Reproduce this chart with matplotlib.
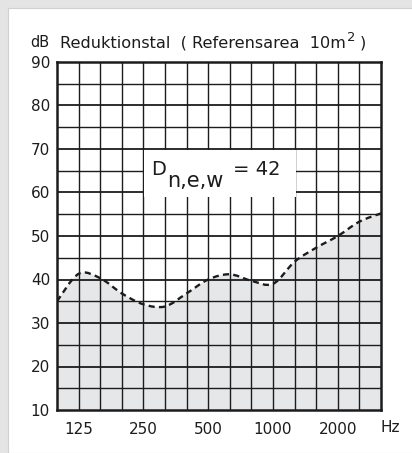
import matplotlib
matplotlib.use("Agg")
import matplotlib.pyplot as plt
import numpy as np
from matplotlib.path import Path
from matplotlib.patches import PathPatch, Rectangle

# 1/3-octave bands 100 Hz .. 3150 Hz
bands = [100, 125, 160, 200, 250, 315, 400, 500, 630, 800, 1000, 1250, 1600, 2000, 2500, 3150]
reduction_db = [35.0, 41.3, 40.3, 36.8, 34.3, 33.8, 36.8, 40.0, 41.2, 39.7, 39.0, 44.1, 47.3, 50.0, 53.3, 55.2]
tick_labels = ["125", "250", "500", "1000", "2000"]
tick_bands = [125, 250, 500, 1000, 2000]
y_ticks = [10, 20, 30, 40, 50, 60, 70, 80, 90]

plt.rcParams["font.family"] = ["DejaVu Sans"]

FG = "#1c1c1c"
FILL = "#e6e7e8"
W, H = 412, 453


def smooth_path(xs, ys):
    # Catmull-Rom -> cubic bezier segments through the data points
    pts = np.column_stack([xs, ys])
    verts = [tuple(pts[0])]
    codes = [Path.MOVETO]
    n = len(pts)
    for i in range(n - 1):
        p0 = pts[max(i - 1, 0)]; p1 = pts[i]; p2 = pts[i + 1]; p3 = pts[min(i + 2, n - 1)]
        c1 = p1 + (p2 - p0) / 6.0
        c2 = p2 - (p3 - p1) / 6.0
        verts += [tuple(c1), tuple(c2), tuple(p2)]
        codes += [Path.CURVE4] * 3
    return verts, codes


def px(x, y):
    return x / W, 1 - y / H


fig = plt.figure(figsize=(W / 100, H / 100), dpi=100)
fig.patch.set_facecolor("#e4e4e4")
fig.add_artist(Rectangle((8 / W, 0), 1, 1 - 8 / H, transform=fig.transFigure,
                         facecolor="white", edgecolor="#d0d0d0", lw=0.8, zorder=0))

ax = fig.add_axes([57 / W, 1 - 410 / H, 324 / W, 348 / H])
ax.set_facecolor("white")
x = np.arange(len(bands))
ax.set_xlim(0, len(bands) - 1)
ax.set_ylim(10, 90)

# filled area under the curve
verts, codes = smooth_path(x, reduction_db)
fverts = verts + [(x[-1], 10), (x[0], 10), verts[0]]
fcodes = codes + [Path.LINETO, Path.LINETO, Path.CLOSEPOLY]
ax.add_patch(PathPatch(Path(fverts, fcodes), facecolor=FILL, edgecolor="none", zorder=1))

# grid
for xi in x[1:-1]:
    ax.axvline(xi, color=FG, lw=1.0, zorder=2)
for yv in range(15, 90, 5):
    ax.axhline(yv, color=FG, lw=1.3 if yv % 10 == 0 else 1.0, zorder=2)

# dashed curve
ax.add_patch(PathPatch(Path(verts, codes), facecolor="none", edgecolor=FG, lw=1.7,
                       linestyle=(0, (2.6, 1.8)), zorder=4))

# label box
i250 = bands.index(250); i1250 = bands.index(1250)
ax.add_patch(Rectangle((i250 + 0.03, 58.9), i1250 - i250 + 0.02, 10.8,
                       facecolor="white", edgecolor="none", zorder=3))
fig.text(*px(151, 175), "D", fontsize=14, color=FG, ha="left", va="baseline", zorder=5)
fig.text(*px(167, 187), "n,e,w", fontsize=15, color=FG, ha="left", va="baseline", zorder=5)
fig.text(*px(233, 175), "= 42", fontsize=14, color=FG, ha="left", va="baseline", zorder=5)

for s in ax.spines.values():
    s.set_color(FG)
    s.set_linewidth(1.8)
    s.set_zorder(6)

ax.set_xticks([bands.index(b) for b in tick_bands])
ax.set_xticklabels(tick_labels)
ax.set_yticks(y_ticks)
ax.tick_params(length=0, labelsize=11, colors=FG, pad=5)
ax.tick_params(axis="x", pad=9)

fig.text(*px(390, 428), "Hz", fontsize=11, color=FG, ha="center", va="center")
fig.text(*px(30, 47), "dB", fontsize=10.5, color=FG, ha="left", va="baseline")
title = fig.text(*px(60, 47), "Reduktionstal  ( Referensarea  10m", fontsize=11.6,
                 color=FG, ha="left", va="baseline")
fig.canvas.draw()
x_end = title.get_window_extent().x1
sup = fig.text(*px(x_end + 1, 41), "2", fontsize=9.5, color=FG, ha="left", va="baseline")
fig.canvas.draw()
fig.text(*px(sup.get_window_extent().x1 + 4, 47), ")", fontsize=11.6, color=FG,
         ha="left", va="baseline")

fig.savefig("out.png", dpi=100, facecolor=fig.get_facecolor())
